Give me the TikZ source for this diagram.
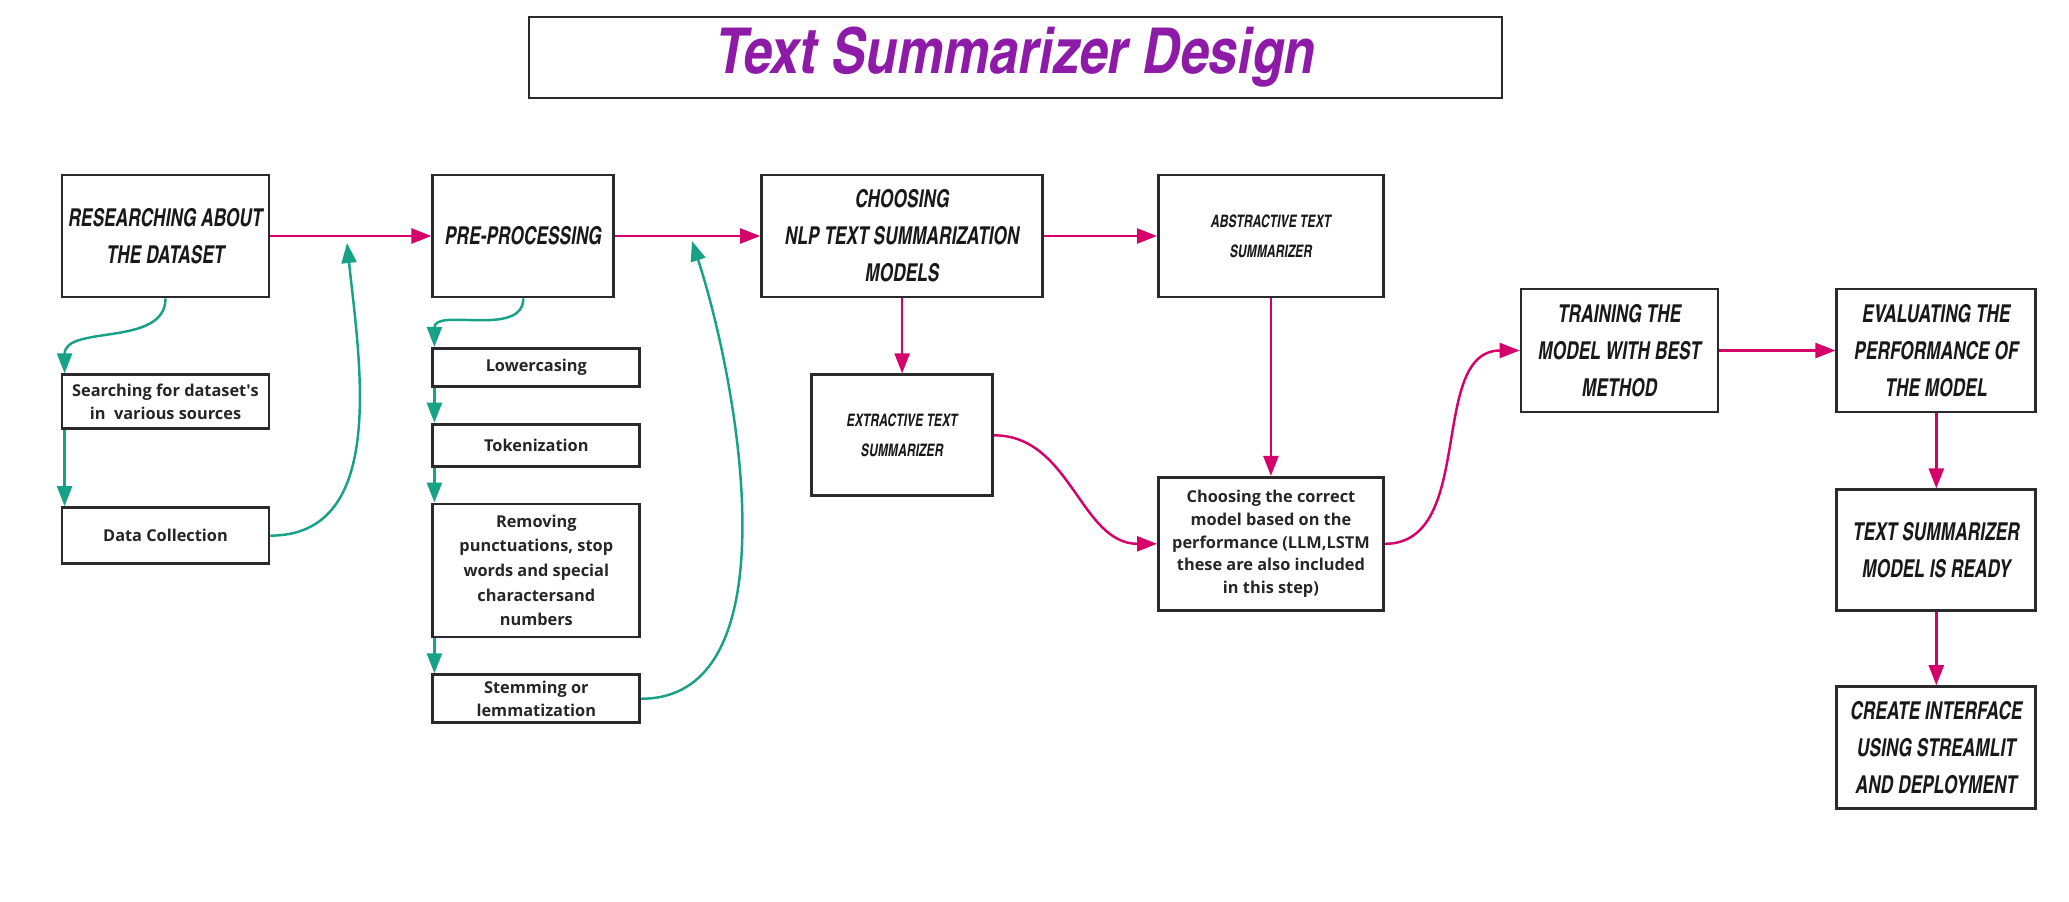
\documentclass[tikz,border=0pt]{standalone}
\usepackage{fontspec}
\newfontfamily\headfont{texgyreheroscn-bolditalic.otf}[FakeStretch=0.86]
\newfontfamily\titlefont{texgyreheroscn-bolditalic.otf}
\newfontfamily\bodyfont{Open Sans}
\usetikzlibrary{arrows.meta, positioning}

\definecolor{flowpink}{HTML}{D6006B}
\definecolor{sideteal}{HTML}{17A287}
\definecolor{titlepurple}{HTML}{8E1BA8}
\definecolor{boxline}{HTML}{2A2A2A}

\begin{document}
\begin{tikzpicture}[
    stage/.style={
        rectangle,
        draw=boxline,
        line width=1.6pt,
        fill=white,
        align=center,
        text=black!90,
        font=\headfont\fontsize{14}{21}\selectfont
    },
    minor/.style={
        stage,
        font=\headfont\fontsize{9.8}{17}\selectfont
    },
    substep/.style={
        rectangle,
        draw=boxline,
        line width=1.6pt,
        fill=white,
        align=center,
        text=black!85,
        minimum width=4.14cm,
        font=\bodyfont\bfseries\fontsize{9.3}{13}\selectfont
    },
    titlebox/.style={
        rectangle,
        draw=boxline,
        line width=1.6pt,
        minimum width=19.46cm,
        minimum height=1.62cm,
        text=titlepurple,
        font=\titlefont\fontsize{36}{40}\selectfont
    },
    flow/.style={
        draw=flowpink,
        line width=1.4pt,
        -{Triangle[length=0.4cm, width=0.3cm]}
    },
    side/.style={
        draw=sideteal,
        line width=1.4pt,
        -{Triangle[length=0.4cm, width=0.3cm]}
    }
]
\useasboundingbox (0,0) rectangle (41.38,-18.04);

\node[titlebox] (title) at (20.31,-1.15) {Text Summarizer Design};

% Top row: main stages
\node[stage, minimum width=4.14cm, minimum height=2.44cm] (research) at (3.31,-4.72) {RESEARCHING ABOUT\\THE DATASET};
\node[stage, minimum width=3.62cm, minimum height=2.44cm, right=3.22cm of research] (prep) {PRE-PROCESSING};
\node[stage, minimum width=5.62cm, minimum height=2.44cm, right=2.90cm of prep] (choose) {CHOOSING\\NLP TEXT SUMMARIZATION\\MODELS};
\node[minor, minimum width=4.50cm, minimum height=2.44cm, right=2.26cm of choose] (abstr) {ABSTRACTIVE TEXT\\SUMMARIZER};

\draw[flow] (research) -- (prep);
\draw[flow] (prep) -- (choose);
\draw[flow] (choose) -- (abstr);

% Dataset steps
\node[substep, minimum height=1.08cm, below=1.50cm of research] (search) {Searching for dataset\textquotesingle s\\in~ various sources};
\node[substep, minimum height=1.12cm, below=1.52cm of search] (datacol) {Data Collection};
\coordinate (backA) at (6.94,-4.86);

\draw[side] (research.south) to[out=-90, in=90] ([xshift=0.08cm]search.north west);
\draw[side] ([xshift=0.08cm]search.south west) -- ([xshift=0.08cm]datacol.north west);
\draw[side] (datacol.east) to[out=0, in=-84] (backA);

% Pre-processing steps
\node[substep, minimum height=0.76cm, below right=0.97cm and 0cm of prep.south west] (lower) {Lowercasing};
\node[substep, minimum height=0.84cm, below=0.70cm of lower] (token) {Tokenization};
\node[substep, minimum height=2.66cm, below=0.70cm of token, font=\bodyfont\bfseries\fontsize{9.3}{14}\selectfont] (remove) {Removing\\punctuations, stop\\words and special\\charactersand\\numbers};
\node[substep, minimum height=0.96cm, below=0.70cm of remove] (stem) {Stemming or\\lemmatization};
\coordinate (backB) at (13.84,-4.82);

\draw[side] (prep.south) to[out=-90, in=90] ([xshift=0.06cm]lower.north west);
\draw[side] ([xshift=0.06cm]lower.south west) -- ([xshift=0.06cm]token.north west);
\draw[side] ([xshift=0.06cm]token.south west) -- ([xshift=0.06cm]remove.north west);
\draw[side] ([xshift=0.06cm]remove.south west) -- ([xshift=0.06cm]stem.north west);
\draw[side] (stem.east) to[out=0, in=-72, looseness=0.85] (backB);

% Model choice
\node[minor, minimum width=3.62cm, minimum height=2.42cm, below=1.50cm of choose] (extr) {EXTRACTIVE TEXT\\SUMMARIZER};
\node[substep, minimum width=4.50cm, minimum height=2.66cm, below=3.55cm of abstr] (correct) {Choosing the correct\\model based on the\\performance (LLM,LSTM\\these are also included\\in this step)};

\draw[flow] (choose) -- (extr);
\draw[flow] (abstr) -- (correct);
\draw[flow] (extr.east) to[out=0, in=180] (correct.west);

% Training and deployment
\node[stage, minimum width=3.94cm, minimum height=2.46cm] (train) at (32.39,-7.01) {TRAINING THE\\MODEL WITH BEST\\METHOD};
\node[stage, minimum width=3.98cm, minimum height=2.46cm, right=2.32cm of train] (eval) {EVALUATING THE\\PERFORMANCE OF\\THE MODEL};
\node[stage, minimum width=3.98cm, minimum height=2.42cm, below=1.50cm of eval] (ready) {TEXT SUMMARIZER\\MODEL IS READY};
\node[stage, minimum width=3.98cm, minimum height=2.44cm, below=1.46cm of ready] (create) {CREATE INTERFACE\\USING STREAMLIT\\AND DEPLOYMENT};

\draw[flow] (correct.east) to[out=0, in=180] (train.west);
\draw[flow] (train) -- (eval);
\draw[flow] (eval) -- (ready);
\draw[flow] (ready) -- (create);

\end{tikzpicture}
\end{document}
